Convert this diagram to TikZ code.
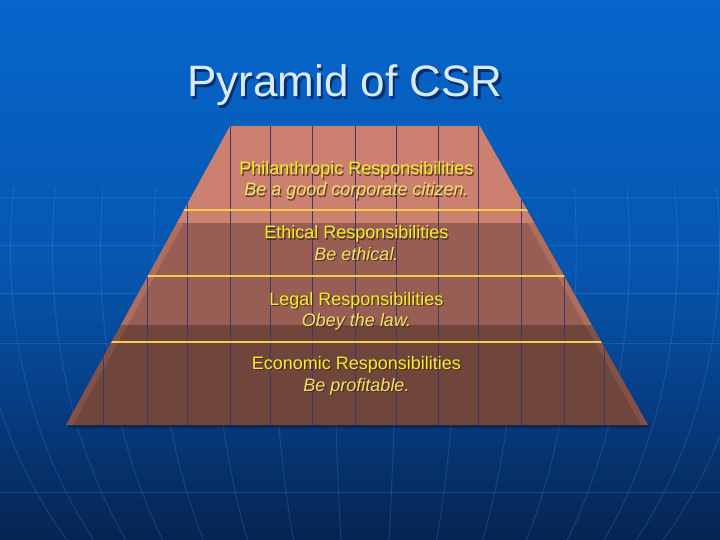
\documentclass[tikz,border=0pt]{standalone}
\usepackage{fontspec}
\setmainfont{Liberation Sans}
\usetikzlibrary{calc}
\definecolor{bgA}{RGB}{6,102,204}
\definecolor{bgB}{RGB}{6,86,174}
\definecolor{bgC}{RGB}{6,60,128}
\definecolor{bgD}{RGB}{6,36,82}
\definecolor{gridc}{RGB}{90,160,235}
\definecolor{salmon}{RGB}{204,128,112}
\definecolor{vlinec}{RGB}{62,54,112}
\definecolor{gold}{RGB}{246,204,80}
\definecolor{ytext}{RGB}{240,240,40}
\definecolor{ytextit}{RGB}{238,228,100}
\definecolor{titlec}{RGB}{218,234,250}
\definecolor{tshadow}{RGB}{70,36,28}
\definecolor{titleshadow}{RGB}{0,28,78}
\newcommand\shadowtext[6]{%
  \node[txt,text=tshadow,opacity=.75] (#1s) at (#2+1.2,#3+1.2) {#4#6};
  \node[txt,text=#5] (#1) at (#2,#3) {#4#6};}
\begin{document}
\begin{tikzpicture}[x=1pt,y=-1pt,
  txt/.style={anchor=base,inner sep=0pt,outer sep=0pt},
  gridline/.style={draw=gridc,line width=0.9pt,opacity=.22},
  vline/.style={draw=vlinec,line width=1pt},
  bandline/.style={draw=gold,line width=1.4pt},
]
\useasboundingbox (0,0) rectangle (720,540);
% background
\fill[top color=bgA,bottom color=bgB] (0,0) rectangle (720,271);
\fill[top color=bgB,bottom color=bgC] (0,270) rectangle (720,411);
\fill[top color=bgC,bottom color=bgD] (0,410) rectangle (720,540);
% globe grid
\begin{scope}
\foreach \yy in {197,245,293,343,492} \draw[gridline] (0,\yy) -- (720,\yy);
\foreach \L in {4,12,...,60} {
  \draw[gridline] plot[domain=-8:42,samples=40,smooth] ({365-450*sin(\L)*cos(\x)},{250+450*sin(\x)});
  \draw[gridline] plot[domain=-8:42,samples=40,smooth] ({365+450*sin(\L)*cos(\x)},{250+450*sin(\x)});
}
\end{scope}
% pyramid
\coordinate (TL) at (230,126);
\coordinate (TR) at (480,126);
\coordinate (BR) at (648,425);
\coordinate (BL) at (66,425);
\fill[black,opacity=.35] (231.5,128.5) -- (481.5,128.5) -- (649.5,427.5) -- (67.5,427.5) -- cycle;
\fill[salmon] (TL) -- (TR) -- (BR) -- (BL) -- cycle;
\begin{scope}
  \clip (TL) -- (TR) -- (BR) -- (BL) -- cycle;
  \fill[black,opacity=.14] (0,223) rectangle (720,325);
  \fill[black,opacity=.36] (0,325) rectangle (720,426);
  \clip (237,126) -- (473,126) -- (641,425) -- (73,425) -- cycle;
  \fill[black,opacity=.13] (0,223) rectangle (720,325);
  \fill[black,opacity=.14] (0,325) rectangle (720,426);
\end{scope}
\begin{scope}
  \clip (TL) -- (TR) -- (BR) -- (BL) -- cycle;
  \foreach \xx in {103,147,187,230,270,312,355,396,438,478,521,564,604}
    \draw[vline] (\xx,120) -- (\xx,430);
  \foreach \yy in {210,276,342} \draw[bandline] (0,\yy) -- (720,\yy);
\end{scope}
% title
\node[txt,text=titleshadow,opacity=.7,font=\fontsize{44}{50}\selectfont] (titles) at (347.3,99.3) {Pyramid of CSR};
\node[txt,text=titlec,font=\fontsize{44}{50}\selectfont] (title) at (345,97) {Pyramid of CSR};
% texts
\shadowtext{p1}{356.5}{175}{\fontsize{18}{21}\selectfont}{ytext}{Philanthropic Responsibilities}
\shadowtext{p2}{356.5}{196}{\fontsize{18}{21}\selectfont\itshape}{ytextit}{Be a good corporate citizen.}
\shadowtext{e1}{356.5}{239}{\fontsize{18}{21}\selectfont}{ytext}{Ethical Responsibilities}
\shadowtext{e2}{356.5}{260}{\fontsize{18}{21}\selectfont\itshape}{ytextit}{Be ethical.}
\shadowtext{l1}{356.5}{305}{\fontsize{18}{21}\selectfont}{ytext}{Legal Responsibilities}
\shadowtext{l2}{356.5}{326}{\fontsize{18}{21}\selectfont\itshape}{ytextit}{Obey the law.}
\shadowtext{c1}{356.5}{369}{\fontsize{18}{21}\selectfont}{ytext}{Economic Responsibilities}
\shadowtext{c2}{356.5}{391}{\fontsize{18}{21}\selectfont\itshape}{ytextit}{Be profitable.}
\end{tikzpicture}
\end{document}
